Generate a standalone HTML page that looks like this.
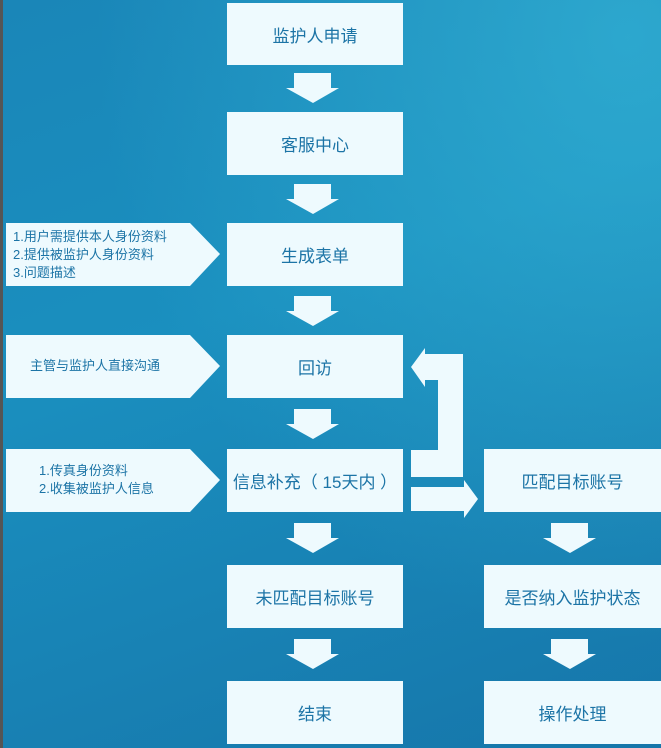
<!DOCTYPE html>
<html><head><meta charset="utf-8"><style>
html,body{margin:0;padding:0}
body{width:661px;height:748px;position:relative;overflow:hidden;
background:linear-gradient(160deg,#1a86b8 0%,#1a8fbf 40%,#1676aa 100%);
font-family:"Liberation Sans","Noto Sans CJK SC",sans-serif;color:#1c74a6}
.bg2{position:absolute;inset:0;background:radial-gradient(ellipse at 95% 5%,rgba(60,190,220,0.55),rgba(60,190,220,0) 60%)}
.edge{position:absolute;left:0;top:0;width:3px;height:748px;background:#555}
.b{position:absolute;background:#eefafe;display:flex;align-items:center;justify-content:center;font-size:17px}
.l{position:absolute;font-size:13px;line-height:18px}
svg{position:absolute;left:0;top:0}
</style></head><body>
<div class="bg2"></div>
<div class="edge"></div>
<svg width="661" height="748">
<g fill="#eefafe">
<polygon points="294,73 331,73 331,88 339,88 313,103 286,88 294,88"/>
<polygon points="294,184 331,184 331,199 339,199 313,214 286,199 294,199"/>
<polygon points="294,296 331,296 331,311 339,311 313,326 286,311 294,311"/>
<polygon points="294,409 331,409 331,424 339,424 313,439 286,424 294,424"/>
<polygon points="294,523 331,523 331,538 339,538 313,553 286,538 294,538"/>
<polygon points="294,639 331,639 331,654 339,654 313,669 286,654 294,654"/>
<polygon points="551,523 588,523 588,538 596,538 570,553 543,538 551,538"/>
<polygon points="551,639 588,639 588,654 596,654 570,669 543,654 551,654"/>
<polygon points="6,223 190,223 220,254 190,286 6,286"/>
<polygon points="6,335 190,335 220,366 190,398 6,398"/>
<polygon points="6,449 190,449 220,480 190,512 6,512"/>
<polygon points="463,354 425,354 425,348 411,367 425,387 425,380 438,380 438,450 411,450 411,477 463,477"/>
<polygon points="411,487 464,487 464,480 478,499 464,518 464,511 411,511"/>
</g>
</svg>
<div class="b" style="left:227px;top:3px;width:176px;height:62px">监护人申请</div>
<div class="b" style="left:227px;top:112px;width:176px;height:63px">客服中心</div>
<div class="b" style="left:227px;top:223px;width:176px;height:63px">生成表单</div>
<div class="b" style="left:227px;top:335px;width:176px;height:63px">回访</div>
<div class="b" style="left:227px;top:449px;width:176px;height:63px">信息补充（ 15天内 ）</div>
<div class="b" style="left:227px;top:565px;width:176px;height:63px">未匹配目标账号</div>
<div class="b" style="left:227px;top:681px;width:176px;height:63px">结束</div>
<div class="b" style="left:484px;top:449px;width:177px;height:63px">匹配目标账号</div>
<div class="b" style="left:484px;top:565px;width:177px;height:63px">是否纳入监护状态</div>
<div class="b" style="left:484px;top:681px;width:177px;height:63px">操作处理</div>
<div class="l" style="left:13px;top:228px">1.用户需提供本人身份资料<br>2.提供被监护人身份资料<br>3.问题描述</div>
<div class="l" style="left:30px;top:357px">主管与监护人直接沟通</div>
<div class="l" style="left:39px;top:462px">1.传真身份资料<br>2.收集被监护人信息</div>
</body></html>
